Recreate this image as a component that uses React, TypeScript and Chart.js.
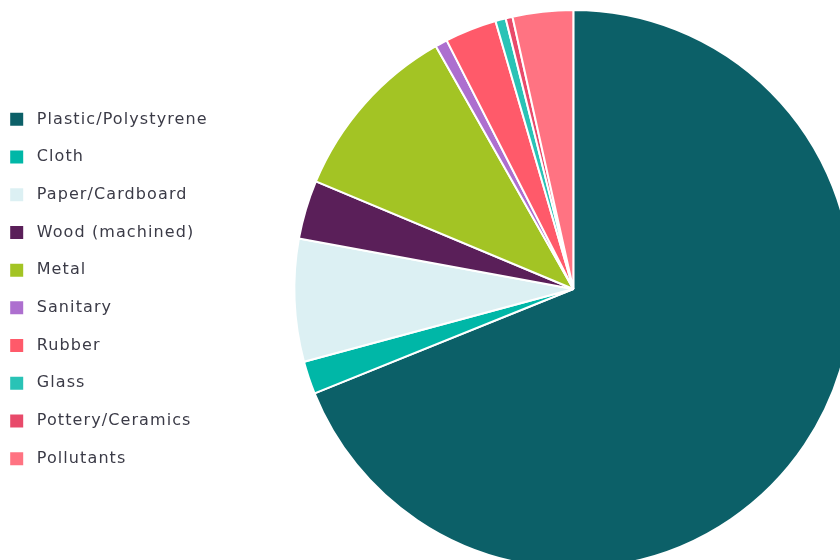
import React, { useEffect, useRef } from 'react';
import { Chart, registerables } from 'chart.js';

Chart.register(...registerables);

const categories = [
  'Plastic/Polystyrene',
  'Cloth',
  'Paper/Cardboard',
  'Wood (machined)',
  'Metal',
  'Sanitary',
  'Rubber',
  'Glass',
  'Pottery/Ceramics',
  'Pollutants',
];

const shares = [68.9, 1.9, 7.1, 3.4, 10.5, 0.7, 3.0, 0.6, 0.4, 3.5];

const sliceColors = [
  '#0c6068',
  '#00b7a7',
  '#dcf0f3',
  '#5a1f59',
  '#a3c424',
  '#ad6fcf',
  '#ff5a6a',
  '#29c3b6',
  '#e84a6a',
  '#ff7382',
];

const spacingPlugin = {
  id: 'legendLetterSpacing',
  beforeUpdate(chart: any) {
    chart.ctx.letterSpacing = '1.1px';
  },
  beforeDraw(chart: any) {
    chart.ctx.letterSpacing = '1.1px';
  },
};

export default function App() {
  const ref = useRef<HTMLCanvasElement>(null);

  useEffect(() => {
    if (!ref.current) return;
    const baseGen = (Chart as any).overrides.pie.plugins.legend.labels.generateLabels;
    const chart = new Chart(ref.current, {
      type: 'pie',
      data: {
        labels: categories,
        datasets: [
          {
            data: shares,
            backgroundColor: sliceColors,
            borderColor: '#ffffff',
            borderWidth: 2,
            clip: false,
          } as any,
        ],
      },
      options: {
        responsive: false,
        animation: false,
        radius: 279,
        layout: { padding: 0 },
        plugins: {
          tooltip: { enabled: false },
          legend: {
            position: 'left',
            align: 'center',
            labels: {
              boxWidth: 24,
              boxHeight: 24,
              padding: 13.7,
              color: '#3b3b47',
              font: { family: "'DejaVu Sans', sans-serif", size: 16 },
              generateLabels: (c: any) =>
                baseGen(c).map((l: any) => ({ ...l, lineWidth: 11, strokeStyle: '#ffffff' })),
            },
          },
        },
      } as any,
      plugins: [spacingPlugin],
    });
    return () => chart.destroy();
  }, []);

  return (
    <div
      style={{
        position: 'fixed',
        left: 0,
        top: 0,
        width: 840,
        height: 560,
        overflow: 'hidden',
        background: '#ffffff',
      }}
    >
      <canvas
        ref={ref}
        width={938}
        height={578}
        style={{ position: 'absolute', left: -9, top: 0, width: 938, height: 578 }}
      />
    </div>
  );
}
